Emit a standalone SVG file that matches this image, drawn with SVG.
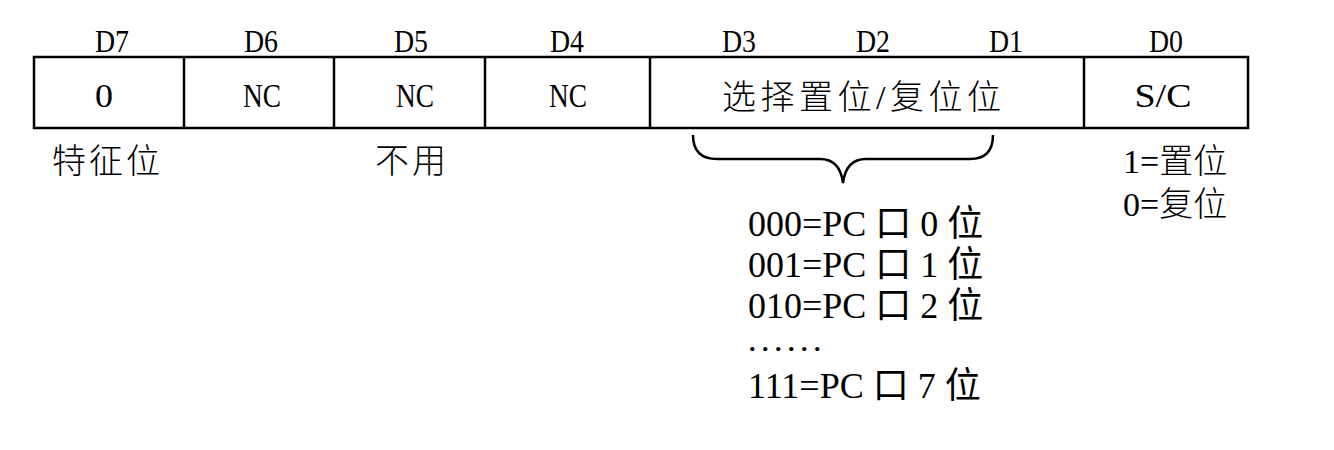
<svg xmlns="http://www.w3.org/2000/svg" width="1334" height="450" viewBox="0 0 1334 450">
<style>
.lbl{font-family:"Liberation Serif",serif;font-size:31px;fill:#000;text-anchor:middle}
.cell{font-family:"Liberation Serif",serif;font-size:34px;fill:#000;text-anchor:middle}
.cjk{font-family:"Liberation Serif","Noto Sans CJK SC",serif;font-size:34px;fill:#000;font-weight:300}
.lst{font-family:"Liberation Serif","Noto Sans CJK SC",serif;font-size:36px;fill:#000}
.box{fill:none;stroke:#000;stroke-width:2.5}
</style>
<rect width="1334" height="450" fill="#fff"/>
<g id="header">
<text class="lbl" x="112" y="52" textLength="34" lengthAdjust="spacingAndGlyphs">D7</text>
<text class="lbl" x="261" y="52" textLength="34" lengthAdjust="spacingAndGlyphs">D6</text>
<text class="lbl" x="411" y="52" textLength="34" lengthAdjust="spacingAndGlyphs">D5</text>
<text class="lbl" x="567" y="52" textLength="34" lengthAdjust="spacingAndGlyphs">D4</text>
<text class="lbl" x="739" y="52" textLength="34" lengthAdjust="spacingAndGlyphs">D3</text>
<text class="lbl" x="873" y="52" textLength="34" lengthAdjust="spacingAndGlyphs">D2</text>
<text class="lbl" x="1006" y="52" textLength="34" lengthAdjust="spacingAndGlyphs">D1</text>
<text class="lbl" x="1166" y="52" textLength="34" lengthAdjust="spacingAndGlyphs">D0</text>
</g>
<g id="register">
<rect class="box" x="34" y="57" width="1214" height="71"/>
<line class="box" x1="184" y1="57" x2="184" y2="128"/>
<line class="box" x1="334" y1="57" x2="334" y2="128"/>
<line class="box" x1="485" y1="57" x2="485" y2="128"/>
<line class="box" x1="650" y1="57" x2="650" y2="128"/>
<line class="box" x1="1084" y1="57" x2="1084" y2="128"/>
<text class="cell" x="104" y="107" textLength="18" lengthAdjust="spacingAndGlyphs">0</text>
<text class="cell" x="262" y="107" textLength="38" lengthAdjust="spacingAndGlyphs">NC</text>
<text class="cell" x="415" y="107" textLength="38" lengthAdjust="spacingAndGlyphs">NC</text>
<text class="cell" x="568" y="107" textLength="38" lengthAdjust="spacingAndGlyphs">NC</text>
<text class="cjk" x="722" y="109" letter-spacing="4.5">选择置位/复位位</text>
<text class="cell" x="1163" y="107" textLength="57" lengthAdjust="spacingAndGlyphs">S/C</text>
</g>
<g id="notes">
<text class="cjk" x="52" y="173" letter-spacing="3">特征位</text>
<text class="cjk" x="375" y="173" letter-spacing="3">不用</text>
<text class="cjk" x="1123" y="173">1=置位</text>
<text class="cjk" x="1123" y="216">0=复位</text>
</g>
<g id="brace">
<path d="M693,135 Q693,159 717,159 L820,159 Q840,159 843,183 Q846,159 866,159 L970,159 Q993,159 993,135" fill="none" stroke="#000" stroke-width="2.5"/>
</g>
<g id="codes">
<text class="lst" x="748" y="236">000=PC 口 0 位</text>
<text class="lst" x="748" y="277">001=PC 口 1 位</text>
<text class="lst" x="748" y="318">010=PC 口 2 位</text>
<text class="lst" x="749" y="351" style="font-size:26px;font-weight:bold" letter-spacing="6.5">......</text>
<text class="lst" x="748" y="398">111=PC 口 7 位</text>
</g>
</svg>
